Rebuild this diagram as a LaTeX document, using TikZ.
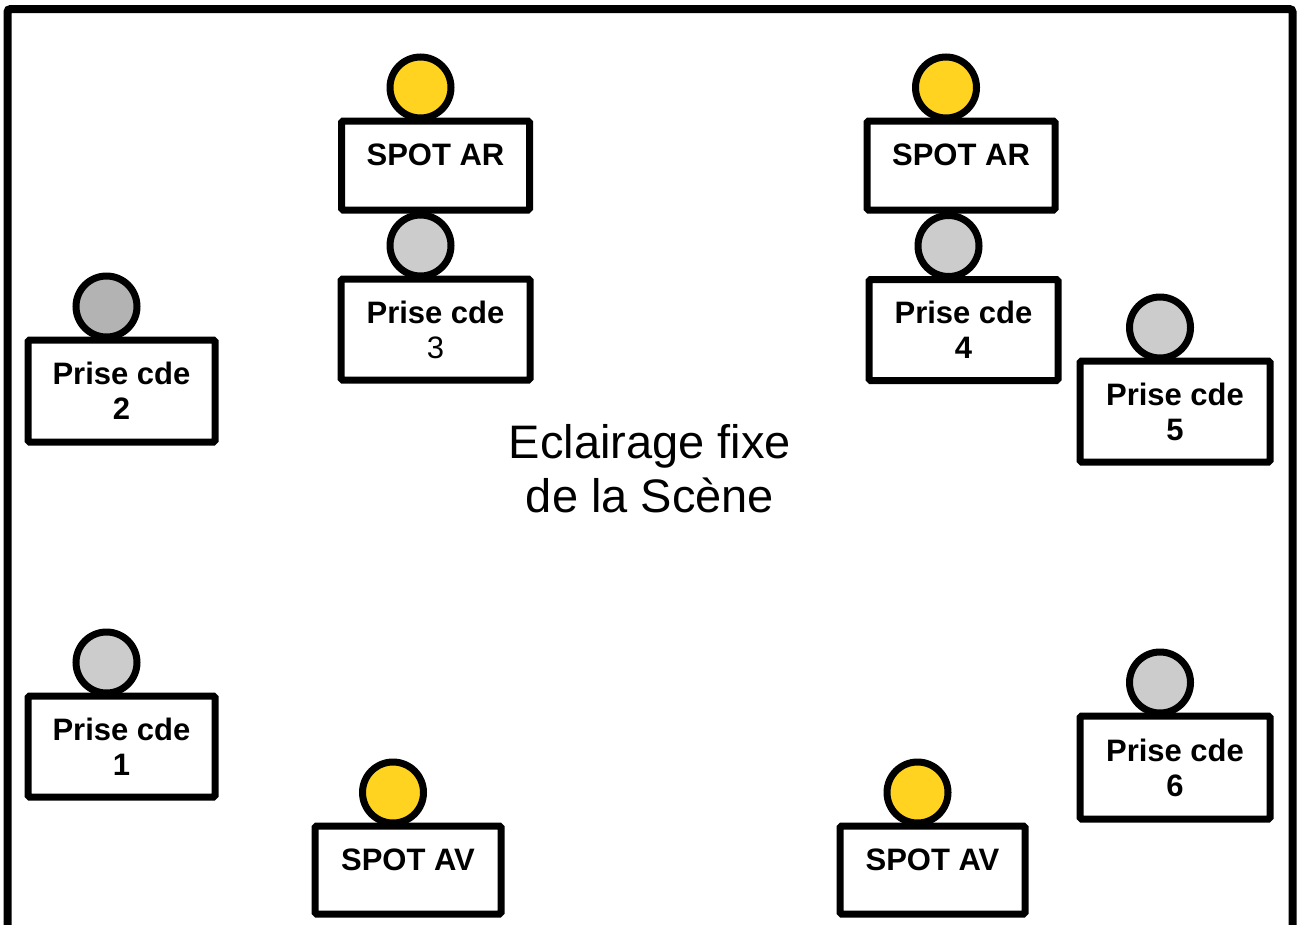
\documentclass[tikz,border=0pt]{standalone}
\usepackage{fontspec}
\setmainfont{Liberation Sans}
\usetikzlibrary{positioning}
\definecolor{spotyellow}{RGB}{255,211,32}
\definecolor{pluggrey}{RGB}{204,204,204}
\definecolor{pluggreydark}{RGB}{179,179,179}

\begin{document}
\begin{tikzpicture}[x=1pt, y=-1pt,
  box/.style={draw, line width=7pt, rounded corners=1.5pt, fill=white, inner sep=0pt,
    align=center, font=\bfseries\fontsize{31}{35}\selectfont},
  spotbox/.style={box, minimum width=188pt, minimum height=89pt, text height=20pt, text depth=20pt},
  prisebox/.style={box, minimum width=189pt, minimum height=101pt},
  lamp/.style={circle, draw, line width=7pt, minimum size=61pt, inner sep=0pt,
    above=-4pt of #1, xshift=-15pt},
  spotlamp/.style={lamp=#1, fill=spotyellow},
  pluglamp/.style={lamp=#1, fill=pluggrey}]
  \clip (0,0) rectangle (1297,924);
  % cadre de la scene
  \draw[line width=8pt, rounded corners=3pt] (7.5,9) rectangle (1292.5,980);
  % boites
  \node[spotbox] (arg) at (435.5,165.5) {SPOT AR};
  \node[prisebox] (p3) at (435.5,329.5) {Prise cde\\{\mdseries 3}};
  \node[spotbox] (ard) at (961,165.5) {SPOT AR};
  \node[prisebox] (p4) at (963.5,330) {Prise cde\\4};
  \node[prisebox, minimum width=187pt, minimum height=102pt] (p2) at (121.5,391) {Prise cde\\2};
  \node[prisebox, minimum width=190pt] (p5) at (1175,411.5) {Prise cde\\5};
  \node[prisebox, minimum width=187pt] (p1) at (121.5,746.5) {Prise cde\\1};
  \node[prisebox, minimum width=190pt, minimum height=103pt] (p6) at (1175,767.5) {Prise cde\\6};
  \node[spotbox, minimum width=186pt, minimum height=88pt] (avg) at (408,870) {SPOT AV};
  \node[spotbox, minimum width=185pt, minimum height=88pt] (avd) at (932.5,870) {SPOT AV};
  % lampes
  \node[spotlamp=arg] (larg) {};
  \node[pluglamp=p3] (lp3) {};
  \node[spotlamp=ard] (lard) {};
  \node[pluglamp=p4] (lp4) {};
  \node[pluglamp=p2, fill=pluggreydark] (lp2) {};
  \node[pluglamp=p5] (lp5) {};
  \node[pluglamp=p1] (lp1) {};
  \node[pluglamp=p6] (lp6) {};
  \node[spotlamp=avg] (lavg) {};
  \node[spotlamp=avd] (lavd) {};
  % titre
  \node[align=center, font=\fontsize{47}{54}\selectfont] (scene) at (650,469)
    {Eclairage fixe\\de la Sc\`ene};
\end{tikzpicture}
\end{document}
